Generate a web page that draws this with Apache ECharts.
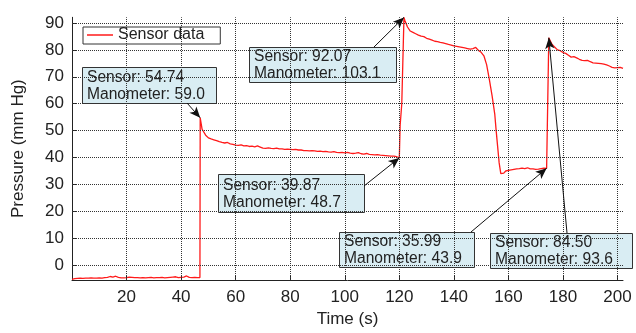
<!DOCTYPE html>
<html>
<head>
<meta charset="utf-8">
<script src="https://cdn.jsdelivr.net/npm/echarts@6/dist/echarts.min.js"></script>
<style>
  html, body { margin: 0; padding: 0; background: #fff; }
  #chart { width: 636px; height: 333px; }
</style>
</head>
<body>
<div id="chart"></div>
<script>
// sensor trace (time in s, pressure in mm Hg)
const times = [
  0, 1, 2, 3, 4, 5, 6, 7, 8, 9, 10, 11, 12, 13, 14, 15, 16, 17, 18, 19,
  20, 21, 22, 23, 24, 25, 26, 27, 28, 29, 30, 31, 32, 33, 34, 35, 36, 37, 38, 39,
  40, 41, 42, 43, 44, 45, 46, 46.9, 47.0, 47.3, 47.7,
  48, 49, 50, 51, 52, 53, 54, 55, 56, 57, 58, 59, 60, 61, 62, 63, 64, 65, 66, 67,
  68, 69, 70, 71, 72, 73, 74, 75, 76, 77, 78, 79, 80, 81, 82, 83, 84, 85, 86, 87,
  88, 89, 90, 91, 92, 93, 94, 95, 96, 97, 98, 99, 100, 101, 102, 103, 104, 105, 106, 107,
  108, 109, 110, 111, 112, 113, 114, 115, 116, 117, 118, 119, 119.6, 120.0, 120.3, 120.9, 121.7,
  122, 123, 124, 125, 126, 127, 128, 129, 130, 131, 132, 133, 134, 135, 136, 137, 138, 139,
  140, 141, 142, 143, 144, 145, 146, 147, 148, 149, 150, 151, 152, 153, 154, 155, 155.5,
  156, 156.6, 157.2, 157.7, 158.3, 159, 160, 161, 162, 163, 164, 165, 166, 167, 168, 169,
  170, 171, 172, 173, 174, 174.5, 174.8, 175, 176, 177, 178, 179, 180, 181, 182, 183, 184,
  185, 186, 187, 188, 189, 190, 191, 192, 193, 194, 195, 196, 197, 198, 199, 200, 201, 202
];
const pressure = [
  -5.3, -5.0, -4.9, -4.8, -4.9, -4.8, -4.8, -4.7, -4.8, -4.8, -4.7, -4.8, -4.6, -4.5, -4.2, -4.4, -4.1, -4.5, -4.7, -4.7,
  -4.6, -4.4, -4.5, -4.6, -4.6, -4.7, -4.6, -4.7, -4.6, -4.5, -4.7, -4.6, -4.6, -4.5, -4.7, -4.6, -4.5, -4.4, -4.3, -4.6,
  -4.5, -4.4, -4.0, -4.5, -4.6, -4.5, -4.6, -4.6, 54.74, 54.5, 50.5,
  50.0, 48.3, 47.3, 46.9, 46.6, 46.3, 45.9, 45.6, 45.4, 45.6, 45.1, 44.9, 44.6, 44.5, 44.7, 44.3, 44.4, 44.1, 44.2, 44.0,
  44.3, 43.9, 43.5, 43.4, 43.6, 43.4, 43.3, 43.5, 43.2, 43.2, 43.0, 43.1, 43.0, 42.9, 43.0, 42.8, 42.8, 42.6, 42.6, 42.5,
  42.6, 42.5, 42.3, 42.4, 42.2, 42.3, 42.1, 42.0, 42.2, 41.9, 41.8, 41.9, 41.7, 41.9, 41.6, 41.5, 41.6, 41.8, 41.4, 41.3,
  41.5, 41.2, 41.1, 41.0, 41.1, 40.9, 40.8, 40.7, 40.6, 40.5, 40.5, 40.3, 40.9, 39.87, 52.0, 60.0, 92.07,
  91.0, 88.5, 87.0, 86.5, 86.0, 85.5, 85.1, 84.9, 84.3, 84.0, 83.6, 83.2, 83.1, 82.8, 82.6, 82.3, 82.0, 81.8,
  81.5, 81.3, 81.1, 80.9, 80.7, 80.5, 80.3, 80.5, 80.9, 79.8, 79.1, 77.8, 74.5, 69.0, 63.0, 56.0, 50.0,
  44.5, 38.0, 34.0, 33.3, 34.2, 35.0, 35.2, 35.4, 35.6, 35.8, 35.9, 36.1, 35.9, 36.2, 35.8, 35.8,
  35.6, 35.7, 35.9, 36.1, 35.99, 36.2, 84.5, 84.2, 82.0, 81.0, 80.0, 79.7, 79.0, 78.7, 78.0, 77.3, 77.5,
  77.0, 76.5, 76.1, 76.0, 76.1, 75.6, 75.2, 75.1, 75.0, 74.9, 74.7, 74.4, 74.0, 73.5, 73.3, 73.4, 73.5, 73.1
];

// axis ticks
const xTicks = [20, 40, 60, 80, 100, 120, 140, 160, 180, 200];
const yTicks = [0, 10, 20, 30, 40, 50, 60, 70, 80, 90];

// annotated points
const annoTime = [47.0, 121.7, 120.0, 174.0, 174.8];
const annoSensor = [54.74, 92.07, 39.87, 35.99, 84.50];
const annoManometer = ['59.0', '103.1', '48.7', '43.9', '93.6'];

// callout boxes [x, y, w, h] and arrow start points (pixels)
const boxes = [
  [82, 67, 134, 36],
  [249, 47, 147, 35],
  [218, 174, 146, 38],
  [339, 232, 135, 35],
  [490, 233, 142, 35]
];
const arrowFrom = [[187, 103], [374, 47], [364, 186], [471, 232], [567, 233]];

const FONT = '"Liberation Sans", Arial, Helvetica, sans-serif';

const chart = echarts.init(document.getElementById('chart'), null, { renderer: 'canvas' });

const dotted = { color: '#333', width: 1, type: 'dotted', opacity: 1 };
const gridLines = xTicks.map(v => ({ xAxis: v, lineStyle: dotted }))
  .concat(yTicks.map(v => ({ yAxis: v, lineStyle: dotted })));
const arrows = annoTime.map((t, i) => [
  { x: arrowFrom[i][0], y: arrowFrom[i][1], symbol: 'none' },
  { coord: [t, annoSensor[i]], symbol: 'arrow', symbolSize: [7, 11] }
]);

const option = {
  animation: false,
  backgroundColor: '#fff',
  grid: { left: 72, right: 13, top: 17.3, bottom: 52.15 },
  legend: {
    left: 83, top: 27,
    backgroundColor: '#fff',
    borderColor: '#333', borderWidth: 1,
    padding: [0, 16, 1, 4],
    itemWidth: 26, itemHeight: 1.5,
    itemGap: 5,
    icon: 'rect',
    textStyle: { fontFamily: FONT, fontSize: 16, color: '#222' },
    data: ['Sensor data']
  },
  xAxis: {
    type: 'value',
    min: 0, max: 202,
    name: 'Time (s)',
    nameLocation: 'middle',
    nameGap: 31,
    nameTextStyle: { fontFamily: FONT, fontSize: 17, color: '#222' },
    axisLine: { show: true, onZero: false, lineStyle: { color: '#222', width: 1 } },
    axisTick: { show: true, inside: true, length: 5, customValues: xTicks, lineStyle: { color: '#222' } },
    axisLabel: { customValues: xTicks, margin: 9, fontFamily: FONT, fontSize: 17, color: '#222' },
    splitLine: { show: false }
  },
  yAxis: {
    type: 'value',
    min: -5.5, max: 92.1,
    name: 'Pressure (mm Hg)',
    nameLocation: 'middle',
    nameGap: 45,
    nameTextStyle: { fontFamily: FONT, fontSize: 17, color: '#222' },
    axisLine: { show: true, onZero: false, lineStyle: { color: '#222', width: 1 } },
    axisTick: { show: true, inside: true, length: 5, customValues: yTicks, lineStyle: { color: '#222' } },
    axisLabel: { customValues: yTicks, margin: 8, fontFamily: FONT, fontSize: 17, color: '#222' },
    splitLine: { show: false }
  },
  series: [
    {
      name: 'Sensor data',
      type: 'line',
      symbol: 'none',
      lineStyle: { color: '#ff1a1a', width: 1.3 },
      itemStyle: { color: '#ff1a1a' },
      data: times.map((t, i) => [t, pressure[i]]),
      markLine: {
        silent: true,
        symbol: ['none', 'none'],
        label: { show: false },
        lineStyle: { color: '#111', width: 1, type: 'solid' },
        emphasis: { disabled: true },
        data: gridLines.concat(arrows)
      }
    }
  ],
  graphic: boxes.map((b, i) => ({
    type: 'group',
    z: 100,
    children: [
      {
        type: 'rect',
        shape: { x: b[0] + 0.5, y: b[1] + 0.5, width: b[2], height: b[3] },
        style: { fill: '#d9edf3', stroke: '#333', lineWidth: 1 }
      },
      {
        type: 'text',
        style: {
          x: b[0] + 5, y: b[1] + b[3] / 2 + 1,
          text: 'Sensor: ' + annoSensor[i].toFixed(2) + '\nManometer: ' + annoManometer[i],
          font: '15.6px ' + FONT,
          lineHeight: 17,
          fill: '#222',
          verticalAlign: 'middle',
          align: 'left'
        }
      }
    ]
  }))
};

chart.setOption(option);
</script>
</body>
</html>
